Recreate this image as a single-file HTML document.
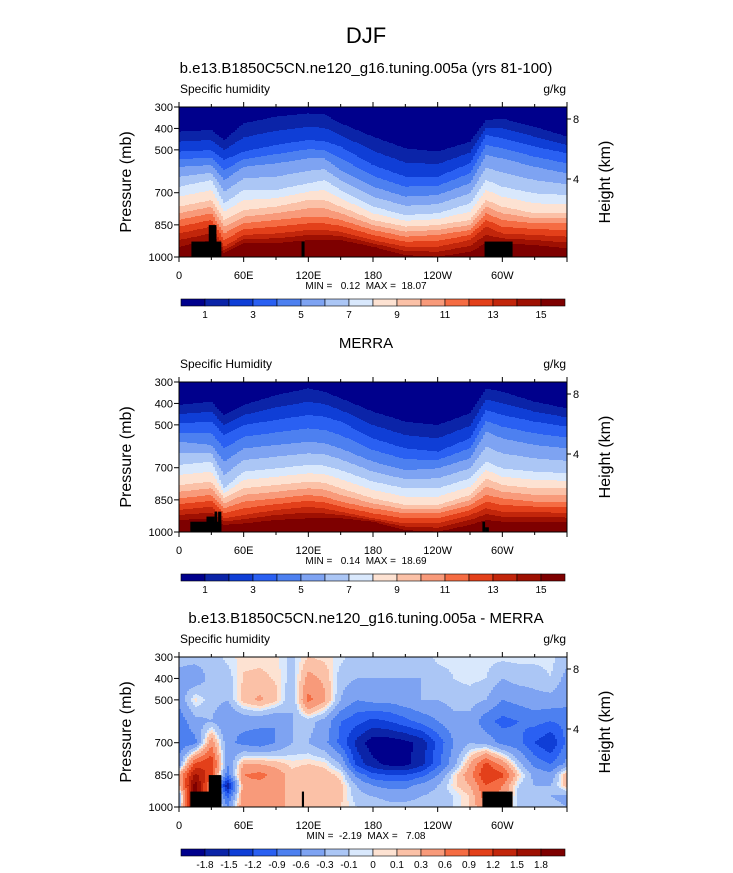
<!DOCTYPE html>
<html><head><meta charset="utf-8">
<style>
body{margin:0;background:#fff;}
svg{display:block;font-family:"Liberation Sans",Arial,sans-serif;}
.pre{white-space:pre;}
</style></head>
<body>
<svg id="fig" width="733" height="873" viewBox="0 0 733 873" xmlns="http://www.w3.org/2000/svg">
<text x="366" y="43" font-size="22" text-anchor="middle">DJF</text>
</svg>
<script>
// ---------- data ----------
const lonsQ = [0,30,42,60,90,120,135,150,180,210,240,270,285,300,330,360];
const qLevels = [1,3,5,7,9,11,13,15];
// panel 1 (model): pressure (mb) of each contour level per longitude
const model = [
 [415,407,454,376,345,330,335,376,438,493,508,462,361,354,392,438],
 [508,501,547,508,477,454,460,485,571,625,625,563,431,446,485,516],
 [579,571,641,579,563,540,540,594,672,718,711,656,524,540,579,610],
 [672,641,750,687,687,656,641,687,765,804,796,750,641,672,703,711],
 [765,734,827,781,765,734,734,765,827,858,851,827,734,765,796,796],
 [827,796,890,843,827,812,812,827,874,905,897,874,796,827,843,843],
 [890,858,952,897,890,874,874,882,921,952,952,921,858,890,897,905],
 [952,921,983,936,936,921,921,921,952,991,999,975,936,936,944,960]
];
// panel 2 (MERRA)
const merra = [
 [407,392,454,407,361,330,345,376,438,485,501,446,330,345,392,423],
 [493,485,547,501,477,454,462,485,563,610,625,563,431,454,485,508],
 [579,594,672,610,594,579,586,610,672,711,703,656,532,563,594,610],
 [687,672,796,718,703,687,690,711,765,796,796,750,672,703,718,726],
 [781,765,843,796,781,765,770,796,843,874,874,827,750,781,796,796],
 [843,827,890,858,843,827,835,858,890,913,913,874,827,843,858,858],
 [897,882,936,921,897,882,890,905,936,960,960,921,890,905,905,913],
 [944,936,967,960,944,936,936,936,952,991,999,967,944,952,952,952]
];
// panel 3 (difference) grid
const lonsD = [0,15,30,45,60,75,90,105,120,135,150,165,180,195,210,225,240,255,270,285,300,315,330,345,360];
const presD = [300,400,500,600,700,800,850,900,950,1000];
const diff = [
 [-0.2,-0.4,-0.5,-0.8,-0.8,-0.5,0.3,0.2,-0.4,-0.3],
 [-0.2,-0.5,0.05,-0.4,-0.7,1.0,1.6,2,2,2],
 [-0.2,-0.2,-0.2,-0.3,0.5,1.2,1.0,0.5,0.5,0.5],
 [-0.05,-0.2,-0.3,-0.6,-0.5,-0.6,-0.8,-1.8,-1.0,-0.6],
 [0.05,0.12,0.2,-0.5,-0.7,0.3,0.6,0.5,0.5,0.6],
 [0.05,0.15,0.35,-0.5,-0.8,0.3,0.7,0.5,0.5,0.6],
 [0.03,0.08,0.15,-0.6,-0.6,0.2,0.5,0.4,0.4,0.4],
 [-0.15,-0.2,-0.3,-0.3,-0.3,0.05,0.15,0.2,0.2,0.2],
 [0.1,0.4,0.7,-0.2,-0.3,0.1,0.3,0.3,0.3,0.3],
 [0.05,0.25,0.35,-0.4,-0.5,0.05,0.2,0.25,0.25,0.2],
 [-0.05,-0.2,-0.3,-0.9,-1.0,-0.3,0.05,0.15,0.15,0.1],
 [-0.2,-0.3,-0.6,-1.1,-1.6,-1.3,-0.7,-0.3,-0.2,-0.1],
 [-0.2,-0.3,-0.5,-1.3,-2.0,-1.7,-1.1,-0.6,-0.3,-0.1],
 [-0.2,-0.3,-0.5,-1.2,-2.0,-1.9,-1.2,-0.7,-0.4,-0.2],
 [-0.2,-0.3,-0.4,-1.0,-1.9,-1.9,-1.2,-0.7,-0.4,-0.2],
 [-0.2,-0.3,-0.3,-0.8,-1.7,-1.6,-1.0,-0.5,-0.3,-0.2],
 [-0.05,-0.2,-0.3,-0.6,-1.1,-1.0,-0.6,-0.3,-0.2,-0.1],
 [-0.05,-0.1,-0.2,-0.4,-0.6,-0.4,0.0,0.05,-0.1,-0.1],
 [-0.05,-0.05,-0.2,-0.4,-0.3,0.3,0.5,0.3,0.1,0.1],
 [-0.05,-0.1,-0.3,-0.8,-0.4,1.0,1.2,0.9,0.8,0.6],
 [-0.05,-0.3,-0.6,-1.0,-0.7,0.5,1.0,0.6,0.5,0.5],
 [-0.05,-0.2,-0.5,-0.9,-0.8,-0.2,0.1,-0.1,-0.2,-0.2],
 [-0.05,-0.2,-0.4,-0.8,-1.2,-0.7,-0.4,-0.3,-0.2,-0.2],
 [-0.05,-0.1,-0.4,-0.9,-1.5,-0.9,-0.5,-0.3,-0.3,-0.2],
 [-0.2,-0.4,-0.5,-0.8,-0.8,-0.5,0.3,0.2,-0.4,-0.3]
];
const diffLevels = [-1.8,-1.5,-1.2,-0.9,-0.6,-0.3,-0.1,0,0.1,0.3,0.6,0.9,1.2,1.5,1.8];
const diffLabels = ["-1.8","-1.5","-1.2","-0.9","-0.6","-0.3","-0.1","0","0.1","0.3","0.6","0.9","1.2","1.5","1.8"];
const qLabels = ["1","3","5","7","9","11","13","15"];
// topography boxes: [lon0, lon1, topPressure]
const topoA = [[11.5,39.3,928],[27.6,34.7,851],[113.7,116.5,928],[283.5,309.5,928]];
const topoB = [[10.5,39.3,952],[25.5,33,928],[33,35.5,905],[36.3,39.3,905],[281.5,284,952],[284,287.5,978]];
const topoC = [[10.5,39.3,928],[27.6,39.3,851],[114,116,928],[281.5,309.5,928]];
const xTickLabels = ["0","60E","120E","180","120W","60W"];
const pTicks = [300,400,500,700,850,1000];
const hTicks = [[8,12],[4,72]];
const colors = ["#00008c","#0b24a8","#0f3ed6","#2a60f2","#4d80f0","#7ea3f2","#abc6f5","#d9e8fc","#fde2d2","#fbc1a7","#f89a7a","#f56c43","#e3401a","#c2260b","#9e1002","#7e0000"];

// ---------- helpers ----------
const NS="http://www.w3.org/2000/svg";
const svg=document.getElementById('fig');
const X0=179, X1=567, PH=150;
function el(tag,attrs,parent){const e=document.createElementNS(NS,tag);for(const k in attrs)e.setAttribute(k,attrs[k]);(parent||svg).appendChild(e);return e;}
function xScale(lon){return X0+lon/360*(X1-X0);}
function yScale(p,top){return top+(p-300)/700*PH;}
function interp1(xs,ys,x){if(x<=xs[0])return ys[0];for(let i=1;i<xs.length;i++){if(x<=xs[i]){const t=(x-xs[i-1])/(xs[i]-xs[i-1]);return ys[i-1]+t*(ys[i]-ys[i-1]);}}return ys[ys.length-1];}
function qValue(bnd,p){
  if(p<bnd[0]) return 1-(bnd[0]-p)/Math.max(bnd[0]-300,1)*0.95;
  for(let k=0;k<bnd.length-1;k++){if(p<bnd[k+1])return qLevels[k]+2*(p-bnd[k])/(bnd[k+1]-bnd[k]);}
  return 15+(p-bnd[7])/Math.max(1000-bnd[7],1);
}
function qBand(v){return Math.max(0,Math.min(15,Math.floor(v)));}
function dBand(v){let b=0;for(const l of diffLevels){if(v>=l)b++;}return b;}

function drawField(g,top,valueAt,bandOf){
  const step=2;
  for(let x=X0;x<X1;x+=step){
    const lon=(x+step/2-X0)/(X1-X0)*360;
    let runStart=top,runBand=null;
    for(let y=top;y<=top+PH;y++){
      let b=null;
      if(y<top+PH){const p=300+(y+0.5-top)/PH*700;b=bandOf(valueAt(lon,p));}
      if(b!==runBand){
        if(runBand!==null){
          const r=el('rect',{x:x,y:runStart,width:step+0.4,height:y-runStart+0.4,fill:colors[runBand]},g);
          
          
        }
        runStart=y;runBand=b;
      }
    }
  }
}

function panel(top,title,titleName,valueAt,bandOf,topo,minmax,cbLabels,cbName,varLabel,isDiff){
  const g=el('g',{});
  
  
  const t=el('text',{x:366,y:top-34,'font-size':15,'text-anchor':'middle'},g);t.textContent=title;
  
  const lt=el('text',{x:180,y:top-14,'font-size':12},g);lt.textContent=varLabel;
  
  const ut=el('text',{x:566,y:top-14,'font-size':12,'text-anchor':'end'},g);ut.textContent='g/kg';
  
  const fg=el('g',{},g);
  
  drawField(fg,top,valueAt,bandOf);
  for(const [a,b,p] of topo){
    const r=el('rect',{x:xScale(a),y:yScale(p,top),width:xScale(b)-xScale(a),height:top+PH-yScale(p,top),fill:'#000'},g);
    
  }
  const fr=el('rect',{x:X0,y:top,width:X1-X0,height:PH,fill:'none',stroke:'#000','stroke-width':1},g);
  
  for(let lon=0;lon<=360;lon+=30){
    const major=lon%60===0, L=major?5:3, x=xScale(lon);
    el('line',{x1:x,x2:x,y1:top+PH,y2:top+PH+L,stroke:'#000'},g);
    el('line',{x1:x,x2:x,y1:top,y2:top-L,stroke:'#000'},g);
    if(major&&lon<360){const tl=el('text',{x:x,y:top+PH+22,'font-size':11,'text-anchor':'middle'},g);tl.textContent=xTickLabels[lon/60];
      }
  }
  for(const p of pTicks){
    const y=yScale(p,top);
    el('line',{x1:X0-5,x2:X0,y1:y,y2:y,stroke:'#000'},g);
    const tl=el('text',{x:X0-6,y:y+4,'font-size':11,'text-anchor':'end'},g);tl.textContent=p;
    
  }
  for(const [h,dy] of hTicks){
    el('line',{x1:X1,x2:X1+4,y1:top+dy,y2:top+dy,stroke:'#000'},g);
    const tl=el('text',{x:X1+6,y:top+dy+4,'font-size':11},g);tl.textContent=h;
    
  }
  const ya=el('text',{x:0,y:0,'font-size':16,'text-anchor':'middle',transform:`translate(131 ${top+75}) rotate(-90)`},g);ya.textContent='Pressure (mb)';
  
  const yb=el('text',{x:0,y:0,'font-size':16,'text-anchor':'middle',transform:`translate(610 ${top+75}) rotate(-90)`},g);yb.textContent='Height (km)';
  
  const mm=el('text',{x:366,y:top+PH+32,'font-size':10,'text-anchor':'middle','class':'pre'},g);mm.textContent=minmax;
  
  const cb=el('g',{},g);
  const cx0=181,cw=24,cy=top+192;
  for(let i=0;i<16;i++){
    const r=el('rect',{x:cx0+i*cw,y:cy,width:cw,height:7,fill:colors[i],stroke:'#000','stroke-width':0.6},cb);
    
  }
  cbLabels.forEach((lab,i)=>{
    const idx=isDiff?i+1:(i*2+1);
    const tl=el('text',{x:cx0+idx*cw,y:cy+19,'font-size':10,'text-anchor':'middle'},cb);tl.textContent=lab;
    
  });
}

function qFieldFn(arr){return (lon,p)=>{const b=arr.map(row=>interp1(lonsQ,row,lon));return qValue(b,p);};}
function diffAt(lon,p){
  const col=diff.map(row=>interp1(presD,row,p));
  return interp1(lonsD,col,lon);
}

panel(107,'b.e13.B1850C5CN.ne120_g16.tuning.005a (yrs 81-100)','model',qFieldFn(model),qBand,topoA,'MIN =   0.12  MAX =  18.07',qLabels,'colorbar-model','Specific humidity',false);
panel(382,'MERRA','merra',qFieldFn(merra),qBand,topoB,'MIN =   0.14  MAX =  18.69',qLabels,'colorbar-merra','Specific Humidity',false);
panel(657,'b.e13.B1850C5CN.ne120_g16.tuning.005a - MERRA','difference',diffAt,dBand,topoC,'MIN =  -2.19  MAX =   7.08',diffLabels,'colorbar-diff','Specific humidity',true);
</script>
</body></html>
